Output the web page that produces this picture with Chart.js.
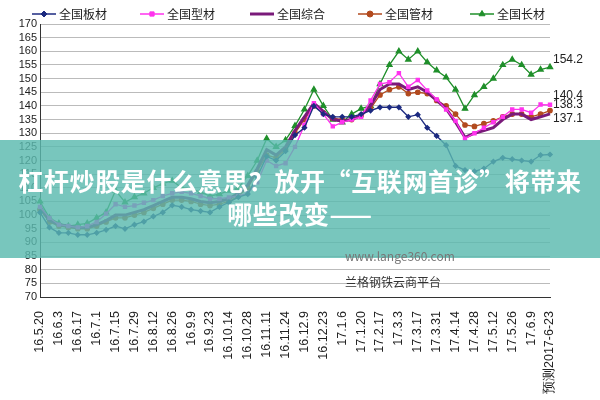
<!DOCTYPE html>
<html><head><meta charset="utf-8">
<script src="https://cdn.jsdelivr.net/npm/chart.js@4"></script>
<style>
body{margin:0;background:#fff;font-family:"Noto Sans CJK SC","Noto Sans",sans-serif}
#w{position:relative;width:600px;height:400px}
#band{position:absolute;left:0;top:140px;width:600px;height:118px;background:rgba(90,185,175,0.82)}
.t{position:absolute;left:0;width:600px;text-align:center;color:#fff;font-weight:bold;font-size:25px;letter-spacing:0.6px;font-family:"Noto Sans CJK SC",sans-serif}
.wm{position:absolute;color:#555;font-size:12px}
</style></head><body>
<div id="w"><canvas id="c" width="600" height="400"></canvas>
<div id="band"></div>
<div class="t" style="top:162px">杠杆炒股是什么意思？放开“互联网首诊”将带来</div>
<div class="t" style="top:195px">哪些改变——</div>
<div class="wm" style="left:345px;top:247px;color:#777">www.lange360.com</div>
<div class="wm" style="left:345px;top:273px;color:#333">兰格钢铁云商平台</div>
</div>
<script>
const tickLabels=["16.5.20","16.6.3","16.6.17","16.7.1","16.7.15","16.7.29","16.8.12","16.8.26","16.9.9","16.9.23","16.10.14","16.10.28","16.11.11","16.11.24","16.12.9","16.12.23","17.1.6","17.1.20","17.2.17","17.3.3","17.3.17","17.3.31","17.4.14","17.4.28","17.5.12","17.5.26","17.6.9","预测2017-6-23"];
const seriesNames=["全国板材","全国型材","全国综合","全国管材","全国长材"];
const plate=[101,95.5,93.5,93.5,92.8,92.8,93.5,94.6,96,95,96.5,97.6,99.5,101,103.6,103,102,101.5,101,103,104.7,106.6,107.7,114,121.5,120,123.4,129.3,132,140,137,136,136,136,137,138.3,139.5,139.5,139.5,136,136.8,132,129,125.6,118,116.5,116,117,119.6,121,120.5,120,119.6,122,122.2];
const section=[103,99,96.5,96,95.5,96,97.5,100.5,104,103,103.5,104.5,105.5,107,108,108.5,108,107,106,106,106.5,107,108,112,120,118,119,125,133,141,137,132.5,134,135,136,142,148,148.7,152,147,149.5,145.7,142.4,138.7,134.5,128,130,132,134,136,138.7,138.7,137.5,140.5,140.4];
const composite=[103,98,96.5,96,95.5,95.5,96.5,98,100,100,101,102,103.5,105,106.5,106.5,106,105,104.5,105,106,108,111,117,124,122,125,131,136,141,138,135,134.5,135,136.5,140,146,148,148,146,147,145,142,139,134,128.5,130,131,132,135,137,137,135,136,137.1];
const pipe=[102,97.5,96,95.5,95,95,96,97.5,99,99,100,101,102.5,104,105.5,105.5,105,104,103.5,104,105,107,110,116,122,121,124,130,135,140,137.5,135.5,135,135,136.5,139,144,146,147,144.5,145,144.5,142,140,137,133,132.5,133.5,134.5,136,137,137,136,137,138.3];
const longp=[105,99,97,96,96.5,97,99,101,109,104.7,106.6,108,110,111.5,112.6,110,109.6,108.4,107,107.7,109,110,114.4,120,128,125,127.5,132.7,138.7,146,140,135,134,137,139,140,148,155,160,157,160,156,153,150.5,146,139,144,147,150,155,157,155,151.5,153.3,154.2];
const endLabels=[null,"140.4","137.1","138.3","154.2"];
const labels=plate.map((_,i)=>i%2===0?tickLabels[i/2]:"");
const colors=["#1c2a80","#ff33ee","#7a1a7a","#b24a1e","#1f8f2a"];
const styles=["rectRot","rect","line","circle","triangle"];
const arrs=[plate,section,composite,pipe,longp];
const endLabelPlugin={id:"el",
afterDraw(ch){const c=ch.ctx;c.save();
const xs0=[32,140,250,358,470];
ch.data.datasets.forEach((ds,k)=>{const x0=xs0[k],yy=14;c.strokeStyle=ds.borderColor;c.fillStyle=ds.backgroundColor;c.lineWidth=k===2?3:1.5;c.beginPath();c.moveTo(x0,yy);c.lineTo(x0+24,yy);c.stroke();
if(k!==2){c.lineWidth=1;Chart.helpers.drawPoint(c,{pointStyle:ds.pointStyle,radius:k===4?3.5:3,borderWidth:1},x0+12,yy);}
c.fillStyle="#222";c.font="12px 'Noto Sans CJK SC'";c.textBaseline="middle";c.fillText(ds.label,x0+27,yy);});
c.restore();},
afterDatasetsDraw(ch){const c=ch.ctx;const y=ch.scales.y,x=ch.scales.x;c.save();c.font="12px 'Liberation Sans',sans-serif";c.fillStyle="#222";
const xs=x.getPixelForValue(plate.length-1)+3;
const offs=[0,-6,8,-3,-4];
endLabels.forEach((t,k)=>{if(!t)return;c.fillText(t,xs,y.getPixelForValue(arrs[k][arrs[k].length-1])+offs[k]);});c.restore();}};
new Chart(document.getElementById("c"),{type:"line",
data:{labels,datasets:arrs.map((d,k)=>({label:seriesNames[k],data:d,borderColor:colors[k],backgroundColor:colors[k],borderWidth:k===2?3:1.3,pointStyle:styles[k],pointRadius:k===2?0:(k===4?3:2.2),tension:0}))},
options:{responsive:false,animation:false,layout:{padding:{right:50,left:14,top:24}},
plugins:{legend:{display:false},tooltip:{enabled:false}},
scales:{x:{offset:false,grid:{display:false},border:{color:"#333"},ticks:{autoSkip:false,maxRotation:90,minRotation:90,padding:6,font:{size:12.5,family:"Liberation Sans"},color:"#222"}},
y:{min:70,max:170,afterFit(s){s.width=26},ticks:{stepSize:5,autoSkip:false,padding:3,font:{size:11,family:"Liberation Sans"},color:"#222"},grid:{color:"#bbb",borderDash:[1,3],drawTicks:false},border:{color:"#333"}}}},
plugins:[endLabelPlugin]});
</script></body></html>
